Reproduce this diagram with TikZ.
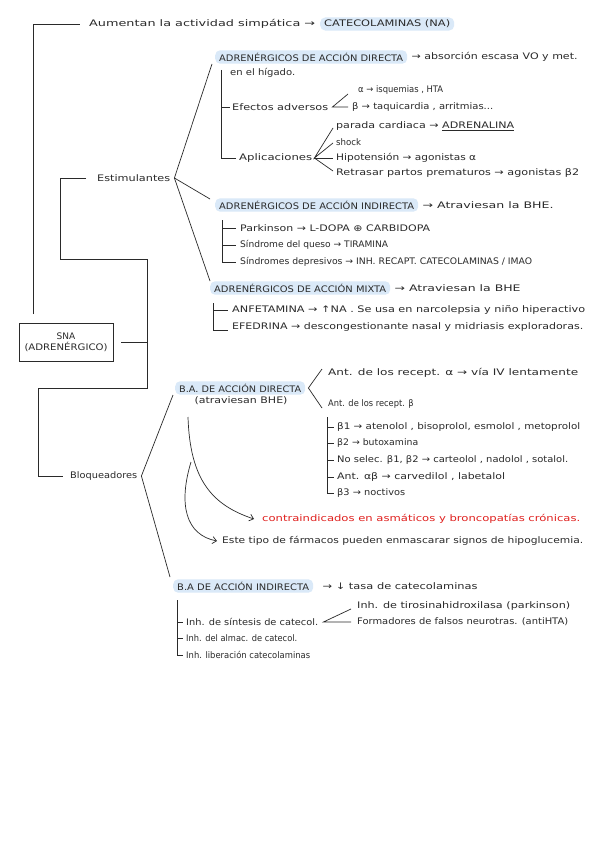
\documentclass[tikz,border=0pt]{standalone}
\usepackage{fontspec}
\usepackage{graphicx}
\setmainfont{DejaVu Sans}
\usetikzlibrary{arrows.meta}
\definecolor{hlblue}{HTML}{DAE9F8}
\definecolor{ink}{HTML}{2A2A2A}
\definecolor{redink}{HTML}{E0201E}
\newsavebox{\fwbox}
\newcommand{\fw}[2]{\sbox{\fwbox}{#2}\pgfmathsetmacro{\fwr}{max(0.92,#1/\wd\fwbox)}\scalebox{\fwr}[1]{\usebox{\fwbox}}}
\newcommand{\fs}{\fontsize{9}{11}\selectfont}
\tikzset{
  lbl/.style={anchor=west, inner sep=0pt, text=ink, font=\fs},
  hl/.style={anchor=west, fill=hlblue, rounded corners=5pt, inner xsep=4pt, inner ysep=2.5pt, text=ink, font=\fs},
  ln/.style={draw=ink, line width=0.7pt},
  arr/.style={ln, -{Straight Barb[length=4pt,width=7pt]}}
}
\begin{document}
\begin{tikzpicture}[x=1pt,y=-1pt]
\useasboundingbox[fill=white] (0,0) rectangle (599,848);

% top
\node[lbl] (aum) at (89,24) {\fw{226}{Aumentan la actividad simpática →}};
\node[hl] (cat) at (320,24) {\fw{126}{CATECOLAMINAS (NA)}};

% SNA
\node[draw=ink, line width=0.8pt, minimum width=94pt, minimum height=38pt, align=center, inner sep=0pt, text=ink, font=\fs] (sna) at (66,342) {SNA\\\fw{83}{(ADRENÉRGICO)}};
\node[lbl] (est) at (97,178) {\fw{73}{Estimulantes}};
\node[lbl] (bloq) at (70,476) {\fw{67}{Bloqueadores}};

\coordinate (ctop) at (33,314);
\draw[ln] (ctop) |- ([xshift=-9pt]aum.west);
\coordinate (trunk) at (147,342);
\draw[ln] ([xshift=8pt]sna.east) -- (trunk);
\draw[ln] ([xshift=-11pt]est.west) -| (60,259) -| (147,388) -| (38,476) -- ([xshift=-7pt]bloq.west);

% Directa
\node[hl] (dir) at (215,57) {\fw{184}{ADRENÉRGICOS DE ACCIÓN DIRECTA}};
\node[lbl] (dirt) at ([xshift=4pt]dir.east) {\fw{166}{→ absorción escasa VO y met.}};
\node[lbl] (hig) at (230,73) {\fw{65}{en el hígado.}};
\node[lbl] (efe) at (232,107) {\fw{96}{Efectos adversos}};
\node[lbl] (alf) at (358,90) {\fw{85}{α → isquemias , HTA}};
\node[lbl] (bet) at (352,107) {\fw{141}{β → taquicardia , arritmias...}};
\node[lbl] (apl) at (239,158) {\fw{73}{Aplicaciones}};
\node[lbl] (ap1) at (336,126) {\fw{178}{parada cardiaca → \underline{ADRENALINA}}};
\node[lbl] (ap2) at (336,142) {\fw{25}{shock}};
\node[lbl] (ap3) at (336,158) {\fw{140}{Hipotensión → agonistas α}};
\node[lbl] (ap4) at (336,173) {\fw{243}{Retrasar partos prematuros → agonistas β2}};
\coordinate (dirbr) at (221,70);
\draw[ln] (dirbr) |- ([xshift=-3pt]apl.west);
\draw[ln] (dirbr |- efe.west) -- ([xshift=-2pt]efe.west);
\draw[ln] ([xshift=-10pt,yshift=-4pt]alf.west) -- ([xshift=4pt]efe.east) -- ([xshift=-4pt]bet.west);
\draw[ln] ([xshift=-3pt,yshift=-2pt]ap1.west) -- ([xshift=2pt]apl.east) -- ([xshift=-3pt,yshift=-1pt]ap2.west);
\draw[ln] ([xshift=2pt]apl.east) -- ([xshift=-3pt]ap3.west);
\draw[ln] ([xshift=2pt]apl.east) -- ([xshift=-3pt,yshift=2pt]ap4.west);

% Indirecta
\node[hl] (ind) at (215,205) {\fw{195}{ADRENÉRGICOS DE ACCIÓN INDIRECTA}};
\node[lbl] (indt) at ([xshift=4pt]ind.east) {\fw{131}{→ Atraviesan la BHE.}};
\node[lbl] (in1) at (240,228) {\fw{190}{Parkinson → L-DOPA ⊕ CARBIDOPA}};
\node[lbl] (in2) at (240,245) {\fw{148}{Síndrome del queso → TIRAMINA}};
\node[lbl] (in3) at (240,262) {\fw{292}{Síndromes depresivos → INH. RECAPT. CATECOLAMINAS / IMAO}};
\coordinate (indbr) at (222,220);
\draw[ln] (indbr) |- ([xshift=-4pt]in3.west);
\draw[ln] (indbr |- in1.west) -- ([xshift=-4pt]in1.west);
\draw[ln] (indbr |- in2.west) -- ([xshift=-4pt]in2.west);

% Mixta
\node[hl] (mix) at (210,288) {\fw{172}{ADRENÉRGICOS DE ACCIÓN MIXTA}};
\node[lbl] (mixt) at ([xshift=4pt]mix.east) {\fw{126}{→ Atraviesan la BHE}};
\node[lbl] (mx1) at (232,310) {\fw{353}{ANFETAMINA → ↑NA . Se usa en narcolepsia y niño hiperactivo}};
\node[lbl] (mx2) at (232,327) {\fw{351}{EFEDRINA → descongestionante nasal y midriasis exploradoras.}};
\coordinate (mixbr) at (213,303);
\draw[ln] (mixbr) |- ([xshift=-4pt,yshift=-3pt]mx2.west);
\draw[ln] (mixbr |- mx1.west) -- ([xshift=-4pt]mx1.west);

% Estimulantes fan
\draw[ln] ([xshift=-3pt]dir.south west) -- ([xshift=4pt]est.east) -- ([xshift=-5pt,yshift=6pt]ind.west);
\draw[ln] ([xshift=4pt]est.east) -- ([yshift=7pt]mix.west);

% Bloqueadores
\node[hl] (bad) at (175,388) {\fw{122}{B.A. DE ACCIÓN DIRECTA}};
\node[lbl, anchor=center] (badp) at (241,401) {\fw{93}{(atraviesan BHE)}};
\node[lbl] (ra) at (328,373) {\fw{250}{Ant. de los recept. α → vía IV lentamente}};
\node[lbl] (rb) at (328,404) {\fw{84}{Ant. de los recept. β}};
\draw[ln] ([xshift=-6pt,yshift=4pt]ra.west) -- ([xshift=3pt]bad.east) -- ([xshift=-6pt,yshift=-4pt]rb.west);
\node[lbl] (b1) at (337,427) {\fw{243}{β1 → atenolol , bisoprolol, esmolol , metoprolol}};
\node[lbl] (b2) at (337,443) {\fw{81}{β2 → butoxamina}};
\node[lbl] (b3) at (337,460) {\fw{231}{No selec. β1, β2 → carteolol , nadolol , sotalol.}};
\node[lbl] (b4) at (337,477) {\fw{168}{Ant. αβ → carvedilol , labetalol}};
\node[lbl] (b5) at (337,493) {\fw{68}{β3 → noctivos}};
\coordinate (bbr) at (327,417);
\draw[ln] (bbr) |- ([xshift=-3pt]b5.west);
\foreach \b in {b1,b2,b3,b4}{\draw[ln] (bbr |- \b.west) -- ([xshift=-3pt]\b.west);}

\node[lbl, text=redink] (ci) at (262,519) {\fw{318}{contraindicados en asmáticos y broncopatías crónicas.}};
\node[lbl] (et) at (222,541) {\fw{361}{Este tipo de fármacos pueden enmascarar signos de hipoglucemia.}};
\coordinate (cv1) at (188,417);
\coordinate (cv2) at (191,462);
\draw[arr] (cv1) .. controls (190,480) and (212,505) .. ([xshift=-8pt]ci.west);
\draw[arr] (cv2) .. controls (178,505) and (186,535) .. ([xshift=-5pt]et.west);

\node[hl] (bai) at (173,586) {\fw{132}{B.A DE ACCIÓN INDIRECTA}};
\node[lbl] (bait) at ([xshift=9pt]bai.east) {\fw{155}{→ ↓ tasa de catecolaminas}};
\draw[ln] ([xshift=-2pt,yshift=-7pt]bad.west) -- ([xshift=4pt]bloq.east) -- ([xshift=-3pt,yshift=9pt]bai.west);

\node[lbl] (i1) at (186,622) {\fw{132}{Inh. de síntesis de catecol.}};
\node[lbl] (i2) at (186,638) {\fw{104}{Inh. del almac. de catecol.}};
\node[lbl] (i3) at (186,655) {\fw{124}{Inh. liberación catecolaminas}};
\coordinate (ibr) at (177,600);
\draw[ln] (ibr) |- ([xshift=-3pt]i3.west);
\draw[ln] (ibr |- i1.west) -- ([xshift=-3pt]i1.west);
\draw[ln] (ibr |- i2.west) -- ([xshift=-3pt]i2.west);
\node[lbl] (t1) at (357,606) {\fw{213}{Inh. de tirosinahidroxilasa (parkinson)}};
\node[lbl] (t2) at (357,622) {\fw{211}{Formadores de falsos neurotras. (antiHTA)}};
\draw[ln] ([xshift=-6pt,yshift=-3pt]t1.west) -- ([xshift=5pt]i1.east) -- ([xshift=-6pt]t2.west);
\end{tikzpicture}
\end{document}
